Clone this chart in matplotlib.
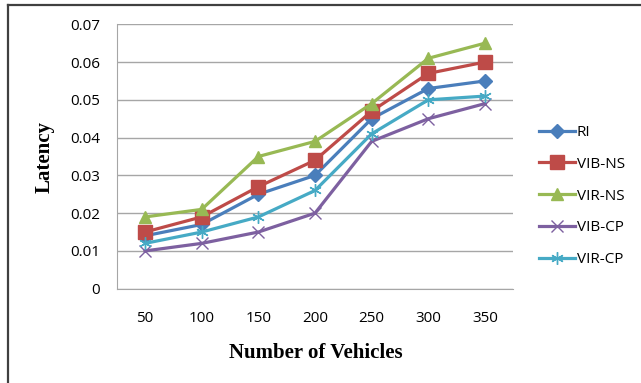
import matplotlib
matplotlib.use("Agg")
import matplotlib.pyplot as plt
from matplotlib.lines import Line2D

categories = ["50", "100", "150", "200", "250", "300", "350"]
series_names = ["RI", "VIB-NS", "VIR-NS", "VIB-CP", "VIR-CP"]
ri = [0.014, 0.017, 0.025, 0.030, 0.045, 0.053, 0.055]
vib_ns = [0.015, 0.019, 0.027, 0.034, 0.047, 0.057, 0.060]
vir_ns = [0.019, 0.021, 0.035, 0.039, 0.049, 0.061, 0.065]
vib_cp = [0.010, 0.012, 0.015, 0.020, 0.039, 0.045, 0.049]
vir_cp = [0.012, 0.015, 0.019, 0.026, 0.041, 0.050, 0.051]
y_ticks = [0, 0.01, 0.02, 0.03, 0.04, 0.05, 0.06, 0.07]
y_tick_labels = ["0", "0.01", "0.02", "0.03", "0.04", "0.05", "0.06", "0.07"]

colors = ["#4A7EBB", "#BE4B48", "#98B954", "#7D60A0", "#46AAC5"]
markers = ["D", "s", "^", "x", (6, 2, 0)]
msizes = [7, 9.5, 9, 8.5, 9]
data = [ri, vib_ns, vir_ns, vib_cp, vir_cp]

W, H = 641, 383
tick_font = "Open Sans"
fig = plt.figure(figsize=(W/100, H/100), dpi=100)
L, R, T, B = 116.7, 513.3, 24.3, 288.7
ax = fig.add_axes([L/W, 1-B/H, (R-L)/W, (B-T)/H])

x = list(range(len(categories)))
for name, vals, c, m, ms in zip(series_names, data, colors, markers, msizes):
    if m == "x" or isinstance(m, tuple):
        kw = dict(markeredgecolor=c, markeredgewidth=1.0)
    else:
        kw = dict(markerfacecolor=c, markeredgecolor=c)
    ax.plot(x, vals, color=c, lw=2.3, marker=m, markersize=ms, label=name, **kw)

ax.set_xlim(-0.5, len(categories) - 0.5)
ax.set_ylim(0, 0.07)
ax.set_yticks(y_ticks)
ax.set_yticklabels(y_tick_labels, fontfamily=tick_font, fontsize=11)
ax.set_xticks(x)
ax.set_xticklabels(categories, fontfamily=tick_font, fontsize=11)
ax.tick_params(axis="y", length=0, pad=12)
ax.tick_params(axis="x", length=0, pad=16)
ax.grid(axis="y", color="#A6A6A6", lw=1)
ax.set_axisbelow(True)
for s in ["top", "right"]:
    ax.spines[s].set_visible(False)
for s in ["left", "bottom"]:
    ax.spines[s].set_color("#A6A6A6")

fig.text(45/W, 1-157/H, "Latency", family="Liberation Serif", weight="bold", fontsize=15,
         rotation=90, ha="center", va="center")
fig.text(315.5/W, 1-353/H, "Number of Vehicles", family="Liberation Serif", weight="bold",
         fontsize=15, ha="center", va="center")

fig.legend(loc="center left", bbox_to_anchor=(539/W, 1-196/H), frameon=False,
           prop={"family": tick_font, "size": 11}, handlelength=2.35, handletextpad=0.12,
           labelspacing=1.1, borderaxespad=0, borderpad=0)

# figure border lines (top and left)
fig.add_artist(Line2D([8/W, 1], [1-5/H, 1-5/H], color="#404040", lw=1.6, transform=fig.transFigure))
fig.add_artist(Line2D([8/W, 8/W], [0, 1-5/H], color="#404040", lw=1.6, transform=fig.transFigure))

fig.savefig("out.png", dpi=100)
